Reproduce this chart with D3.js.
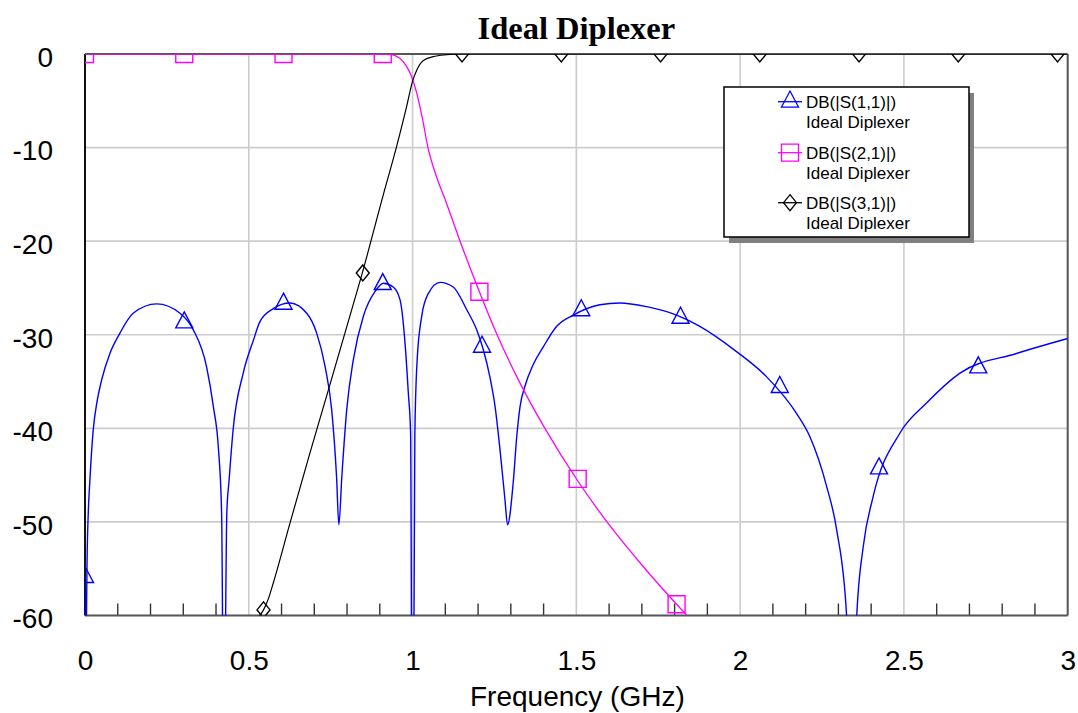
<!DOCTYPE html>
<html>
<head>
<meta charset="utf-8">
<script src="https://cdn.jsdelivr.net/npm/d3@7"></script>
<style>
  html, body { margin: 0; padding: 0; background: #fff; }
  svg { display: block; }
</style>
</head>
<body>
<svg id="chart" width="1078" height="713"></svg>
<script>
// ---------------- DATA ----------------
const chartTitle = "Ideal Diplexer";
const xAxisTitle = "Frequency (GHz)";
const xTickValues = [0, 0.5, 1, 1.5, 2, 2.5, 3];
const xTickLabels = ["0", "0.5", "1", "1.5", "2", "2.5", "3"];
const yTickValues = [0, -10, -20, -30, -40, -50, -60];
const yTickLabels = ["0", "-10", "-20", "-30", "-40", "-50", "-60"];
const xMinorTicks = [0.1,0.2,0.3,0.4,0.6,0.7,0.8,0.9,1.1,1.2,1.3,1.4,1.6,1.7,1.8,1.9,2.1,2.2,2.3,2.4,2.6,2.7,2.8,2.9];

const seriesNames = ["DB(|S(1,1)|)", "DB(|S(2,1)|)", "DB(|S(3,1)|)"];
const seriesSubtitle = "Ideal Diplexer";

// S11 (blue)
const s11Freq = [0, 0.002, 0.007, 0.010, 0.015, 0.025, 0.036, 0.051, 0.076, 0.107, 0.147, 0.219, 0.29, 0.331, 0.371, 0.392, 0.407, 0.417, 0.424,
  0.433, 0.44, 0.452, 0.483, 0.514, 0.534, 0.575, 0.626, 0.677, 0.707, 0.733, 0.753, 0.768, 0.775,
  0.784, 0.799, 0.819, 0.85, 0.885, 0.911, 0.941, 0.962, 0.977, 0.987, 0.994, 1.0,
  1.007, 1.014, 1.028, 1.048, 1.084, 1.124, 1.165, 1.196, 1.216, 1.236, 1.252, 1.267, 1.282, 1.290,
  1.307, 1.318, 1.328, 1.343, 1.368, 1.399, 1.44, 1.491, 1.572, 1.633, 1.715, 1.806, 1.877, 1.989, 2.081, 2.172, 2.213, 2.264, 2.295, 2.325, 2.34,
  2.356, 2.376, 2.406, 2.488, 2.569, 2.671, 2.844, 3.0];
const s11DB = [-55.7, -66, -52.6, -49, -45.5, -40.2, -37.3, -34.8, -32, -29.8, -27.7, -26.7, -27.7, -29.5, -33.4, -37.7, -42, -49, -76,
  -49, -45.5, -40.2, -34.1, -30.6, -28.6, -27.2, -26.6, -27.7, -29.8, -33.4, -38, -45.2, -50.3,
  -45.2, -38, -32.7, -28, -25.4, -24.5, -24.9, -26.3, -30.9, -36.2, -40.5, -90,
  -40.5, -32.7, -28, -25.6, -24.4, -24.9, -27.3, -29.5, -31.6, -34.5, -37.7, -42.3, -47.6, -50.3,
  -45.9, -40.9, -37.7, -35.5, -33.2, -31.3, -29.1, -27.9, -26.8, -26.6, -27, -27.9, -29.1, -31.8, -34.5, -38.4, -40.9, -46.2, -50.9, -60, -76,
  -60, -52.6, -47.3, -40.5, -37.3, -34.1, -32, -30.4];
const s11MarkerFreq = [0, 0.303, 0.606, 0.909, 1.212, 1.515, 1.818, 2.121, 2.424, 2.727];
const s11MarkerDB = [-55.9, -28.7, -26.7, -24.6, -31.3, -27.4, -28.2, -35.6, -44.3, -33.5];

// S21 (magenta)
const s21Freq = [0, 0.8, 0.93, 0.961, 0.982, 0.997, 1.013, 1.029, 1.047, 1.07, 1.1, 1.145, 1.204, 1.258, 1.33, 1.404, 1.504, 1.6, 1.7, 1.806, 1.9];
const s21DB = [0, 0, -0.05, -0.46, -1.35, -2.4, -4.2, -6.7, -10, -12.8, -15.6, -20, -25.4, -30, -35.3, -40, -45.6, -50.3, -54.6, -58.8, -62.3];
const s21MarkerFreq = [0, 0.303, 0.606, 0.909, 1.204, 1.504, 1.806];
const s21MarkerDB = [0, 0, 0, 0, -25.4, -45.4, -58.8];

// S31 (black)
const s31Freq = [0.48, 0.525, 0.545, 0.56, 0.575, 0.626, 0.687, 0.748, 0.797, 0.845, 0.911, 0.952, 0.982,
  1.0, 1.013, 1.033, 1.063, 1.104, 1.145, 3.0];
const s31DB = [-64.5, -60.4, -59.4, -58.2, -56.5, -50.1, -42.6, -35.3, -29.4, -23.6, -15.0, -9.8, -5.6,
  -2.9, -1.7, -0.7, -0.28, -0.08, 0, 0];
const s31MarkerFreq = [0.545, 0.848, 1.151, 1.454, 1.757, 2.06, 2.363, 2.666, 2.969];
const s31MarkerDB = [-59.4, -23.4, 0, 0, 0, 0, 0, 0, 0];

// ---------------- DRAWING ----------------
const plot = { left: 85, right: 1067.7, top: 54, bottom: 615.5 };
const sansFont = "'Liberation Sans', Arial, sans-serif";

const svg = d3.select("#chart");
const x = d3.scaleLinear().domain([0, 3]).range([plot.left, plot.right]);
const y = d3.scaleLinear().domain([-60, 0]).range([plot.bottom, plot.top]);

svg.append("defs").append("clipPath").attr("id", "plotClip")
  .append("rect")
  .attr("x", plot.left).attr("y", plot.top)
  .attr("width", plot.right - plot.left).attr("height", plot.bottom - plot.top);

// Grid
const grid = svg.append("g").attr("stroke", "#cccccc").attr("stroke-width", 1.6);
grid.selectAll("line.v").data(xTickValues.filter(v => v > 0 && v < 3)).join("line")
  .attr("x1", d => x(d)).attr("x2", d => x(d))
  .attr("y1", plot.top).attr("y2", plot.bottom);
grid.selectAll("line.h").data(yTickValues.filter(v => v < 0 && v > -60)).join("line")
  .attr("x1", plot.left).attr("x2", plot.right)
  .attr("y1", d => y(d)).attr("y2", d => y(d));

// Minor ticks on bottom
svg.append("g").attr("stroke", "#333").attr("stroke-width", 1.4)
  .selectAll("line").data(xMinorTicks).join("line")
  .attr("x1", d => x(d)).attr("x2", d => x(d))
  .attr("y1", plot.bottom).attr("y2", plot.bottom - 12);

// Frame
const frame = svg.append("g").attr("fill", "none");
frame.append("line").attr("x1", plot.left).attr("x2", plot.right).attr("y1", plot.top).attr("y2", plot.top)
  .attr("stroke", "#555").attr("stroke-width", 2);
frame.append("line").attr("x1", plot.right).attr("x2", plot.right).attr("y1", plot.top).attr("y2", plot.bottom)
  .attr("stroke", "#555").attr("stroke-width", 2);
frame.append("line").attr("x1", plot.left).attr("x2", plot.right).attr("y1", plot.bottom).attr("y2", plot.bottom)
  .attr("stroke", "#555").attr("stroke-width", 2);
frame.append("line").attr("x1", plot.left).attr("x2", plot.left).attr("y1", plot.top).attr("y2", plot.bottom)
  .attr("stroke", "#111").attr("stroke-width", 2);

// Axes (labels only)
const xAxis = d3.axisBottom(x).tickValues(xTickValues).tickSize(0).tickPadding(35)
  .tickFormat((d, i) => xTickLabels[i]);
const gx = svg.append("g").attr("transform", `translate(0,${plot.bottom})`).call(xAxis);
gx.select(".domain").remove();
gx.selectAll("text").attr("font-family", sansFont).attr("font-size", 28).attr("fill", "#000");

const yAxis = d3.axisLeft(y).tickValues(yTickValues).tickSize(0).tickPadding(32)
  .tickFormat((d, i) => yTickLabels[i]);
const gy = svg.append("g").attr("transform", `translate(${plot.left},0)`).call(yAxis);
gy.select(".domain").remove();
gy.selectAll("text").attr("font-family", sansFont).attr("font-size", 28).attr("fill", "#000").attr("dy", "0.44em");

// Titles
svg.append("text").attr("x", (plot.left + plot.right) / 2).attr("y", 39)
  .attr("text-anchor", "middle").attr("font-family", "'Liberation Serif', 'Times New Roman', serif")
  .attr("font-weight", "bold").attr("font-size", 32.5).text(chartTitle);
svg.append("text").attr("x", (plot.left + plot.right) / 2 + 1).attr("y", 706)
  .attr("text-anchor", "middle").attr("font-family", sansFont)
  .attr("font-size", 28).text(xAxisTitle);

// Marker shapes
function markerPath(type) {
  if (type === "tri") { // centroid at origin
    const w = 17, h = 16;
    return `M0,${-2 * h / 3}L${w / 2},${h / 3}L${-w / 2},${h / 3}Z`;
  }
  if (type === "sq") { const s = 17; return `M${-s/2},${-s/2}h${s}v${s}h${-s}Z`; }
  const w = 13, h = 16; // diamond
  return `M0,${-h/2}L${w/2},0L0,${h/2}L${-w/2},0Z`;
}

const series = [
  { name: seriesNames[0], freq: s11Freq, db: s11DB, mf: s11MarkerFreq, mdb: s11MarkerDB, color: "#0000ff", marker: "tri", width: 1.4 },
  { name: seriesNames[1], freq: s21Freq, db: s21DB, mf: s21MarkerFreq, mdb: s21MarkerDB, color: "#ff00ff", marker: "sq", width: 1.3 },
  { name: seriesNames[2], freq: s31Freq, db: s31DB, mf: s31MarkerFreq, mdb: s31MarkerDB, color: "#000000", marker: "dia", width: 1.2 }
];

const plotG = svg.append("g").attr("clip-path", "url(#plotClip)");
const line = d3.line().curve(d3.curveMonotoneX).x(d => x(d[0])).y(d => y(d[1]));

series.forEach(s => {
  const pts = s.freq.map((f, i) => [f, s.db[i]]);
  plotG.append("path").datum(pts).attr("d", line)
    .attr("fill", "none").attr("stroke", s.color).attr("stroke-width", s.width)
    .attr("stroke-linejoin", "round");
});
series.forEach(s => {
  const mpts = s.mf.map((f, i) => [f, s.mdb[i]]);
  plotG.selectAll(null).data(mpts).join("path")
    .attr("d", markerPath(s.marker))
    .attr("transform", d => `translate(${x(d[0])},${y(d[1])})`)
    .attr("fill", "none").attr("stroke", s.color).attr("stroke-width", 1.4);
});

// Legend
const lg = { x: 724, y: 87, w: 245, h: 150 };
svg.append("rect").attr("x", lg.x + 5).attr("y", lg.y + 6).attr("width", lg.w).attr("height", lg.h).attr("fill", "#808080");
svg.append("rect").attr("x", lg.x).attr("y", lg.y).attr("width", lg.w).attr("height", lg.h)
  .attr("fill", "#fff").attr("stroke", "#000").attr("stroke-width", 1.5);
const legendRowY = [101.7, 152.7, 202.7];
series.forEach((s, i) => {
  const cy = legendRowY[i];
  const g = svg.append("g");
  g.append("line").attr("x1", 778).attr("x2", 802).attr("y1", cy).attr("y2", cy)
    .attr("stroke", s.color).attr("stroke-width", 1.3);
  g.append("path").attr("d", markerPath(s.marker)).attr("transform", `translate(790,${cy})`)
    .attr("fill", "none").attr("stroke", s.color).attr("stroke-width", 1.3);
  g.append("text").attr("x", 806).attr("y", cy + 6).attr("font-family", sansFont).attr("font-size", 17).text(s.name);
  g.append("text").attr("x", 806).attr("y", cy + 26).attr("font-family", sansFont).attr("font-size", 17).text(seriesSubtitle);
});
</script>
</body>
</html>
